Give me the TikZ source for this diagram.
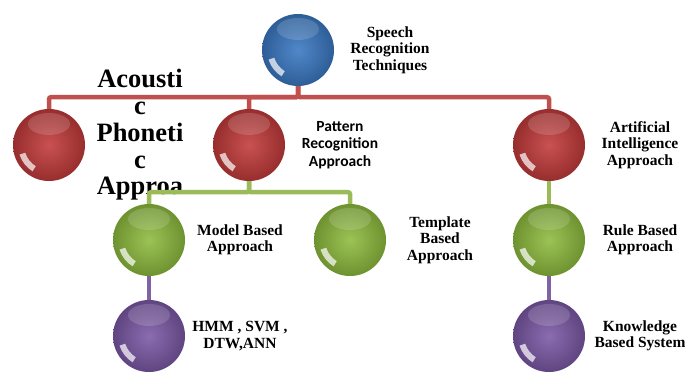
\documentclass[tikz,border=0pt]{standalone}
\usepackage{fontspec}
\setmainfont{Liberation Serif}
\newfontfamily\carlito{Carlito}
\usetikzlibrary{positioning}
\definecolor{sphblue}{HTML}{3A78C2}
\definecolor{sphred}{HTML}{C23A3A}
\definecolor{sphgreen}{HTML}{8EBB3E}
\definecolor{sphpurple}{HTML}{7A58A5}
\definecolor{linered}{HTML}{C0504D}
\definecolor{linegreen}{HTML}{9BBB59}
\definecolor{linepurple}{HTML}{8064A2}

\begin{document}
\begin{tikzpicture}[
			node distance=95pt,
			ball/.style = {circle, minimum size=72pt, inner sep=0pt,
				inner color=#1!88!white, outer color=#1!78!black,
				path picture={
					\fill[white, opacity=.15] ([yshift=21pt]path picture bounding box.center)
						ellipse (21pt and 11pt);
					\fill[white, opacity=.7]
						([shift={(198:31pt)}]path picture bounding box.center)
						arc[start angle=198, end angle=238, radius=31pt]
						-- ([shift={(238:25pt)}]path picture bounding box.center)
						arc[start angle=238, end angle=198, radius=25pt] -- cycle;
				}},
			txt/.style = {align=center, inner sep=0pt,
				font=\fontsize{15.5}{16.5}\selectfont\bfseries},
			conn/.style = {line width=4.5pt, rounded corners=2pt}
		]
		\useasboundingbox (0,0) rectangle (685pt,-372pt);
		\node[ball=sphblue] (sr) at (298pt,-50pt) {};
		\node[txt, node distance=92pt, right of=sr] (srt) {Speech\\Recognition\\Techniques};
		% Level 1.
		\node[ball=sphred, below of=sr, xshift=-49pt] (pra) {};
		\node[ball=sphred, node distance=200pt, left of=pra] (apa) {};
		\node[ball=sphred, node distance=300pt, right of=pra] (aia) {};
		% Level 2.
		\node[ball=sphgreen, below of=pra, xshift=-100pt] (mba) {};
		\node[ball=sphgreen, node distance=201pt, right of=mba] (tba) {};
		\node[ball=sphgreen, below of=aia] (rba) {};
		% Level 3.
		\node[ball=sphpurple, node distance=96pt, below of=mba] (hmm) {};
		\node[ball=sphpurple, node distance=96pt, below of=rba] (kbs) {};
		% Labels.
		\node[txt, node distance=91pt, right of=apa, yshift=10pt,
			font=\fontsize{26.5}{26.8}\selectfont\bfseries] (apat) {Acousti\\c\\Phoneti\\c\\Approa};
		\node[txt, node distance=91pt, right of=pra,
			font=\fontsize{15.5}{17.5}\selectfont\carlito\bfseries] (prat) {Pattern\\Recognition\\Approach};
		\node[txt, node distance=91pt, right of=aia] (aiat) {Artificial\\Intelligence\\Approach};
		\node[txt, node distance=91pt, right of=mba] (mbat) {Model Based\\Approach};
		\node[txt, node distance=90pt, right of=tba] (tbat) {Template\\Based\\Approach};
		\node[txt, node distance=91pt, right of=rba] (rbat) {Rule Based\\Approach};
		\node[txt, node distance=91pt, right of=hmm] (hmmt) {HMM , SVM ,\\DTW,ANN};
		\node[txt, node distance=91pt, right of=kbs] (kbst) {Knowledge\\Based System};
		
		\draw[conn, linered] (sr.south) -- ++(0,-11pt) -| (apa.north);
		\draw[conn, linered] (sr.south) -- ++(0,-11pt) -| (pra.north);
		\draw[conn, linered] (sr.south) -- ++(0,-11pt) -| (aia.north);
		\draw[conn, linegreen] (pra.south) -- ++(0,-11pt) -| (mba.north);
		\draw[conn, linegreen] (pra.south) -- ++(0,-11pt) -| (tba.north);
		\draw[conn, linegreen] (aia) to (rba);
		\draw[conn, linepurple] (mba) to (hmm);
		\draw[conn, linepurple] (rba) to (kbs);
	\end{tikzpicture}
\end{document}
